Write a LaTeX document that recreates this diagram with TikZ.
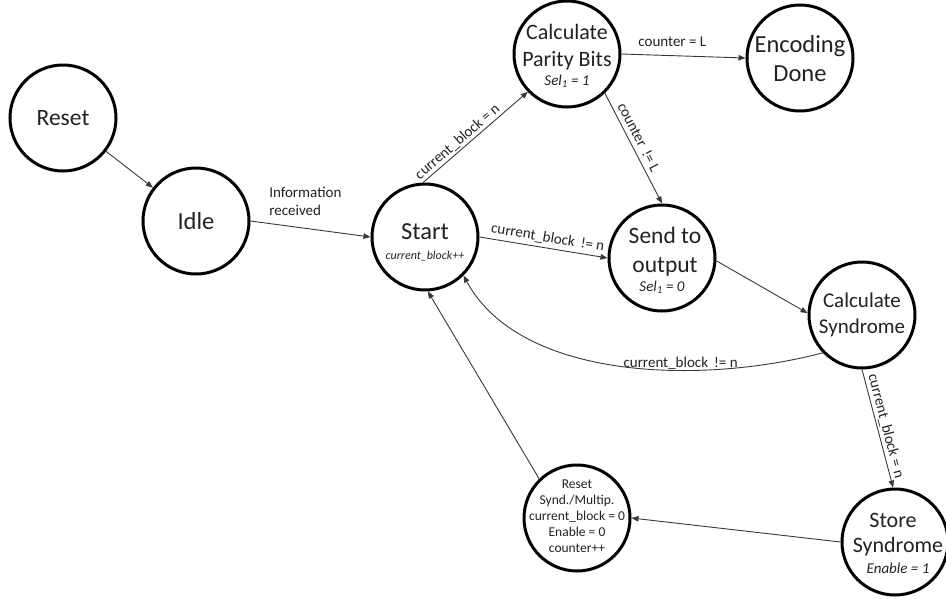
\documentclass[tikz,border=0pt]{standalone}
\usepackage{fontspec}
\setmainfont{Carlito}
\usetikzlibrary{arrows.meta}
\definecolor{inkgray}{HTML}{222222}
\definecolor{wiregray}{HTML}{383838}
\tikzset{
  state/.style={circle, draw=black, line width=3pt, minimum size=106pt, inner sep=0pt},
  stxt/.style={anchor=base, text=inkgray, inner sep=0pt},
  fhuge/.style={font=\fontsize{24.5}{28}\selectfont},
  fbig/.style={font=\fontsize{23.5}{27}\selectfont},
  fmid/.style={font=\fontsize{22}{26}\selectfont},
  fsyn/.style={font=\fontsize{21}{25}\selectfont},
  fnote/.style={font=\fontsize{15}{18}\selectfont\itshape},
  ftiny/.style={font=\fontsize{12}{14}\selectfont\itshape},
  fsmall/.style={font=\fontsize{13.5}{16}\selectfont},
  wire/.style={draw=wiregray, line width=0.9pt, -{Triangle[length=7pt,width=5.5pt]}},
  elabel/.style={font=\fontsize{15}{18}\selectfont, text=inkgray, inner sep=1.5pt},
}
\begin{document}
\begin{tikzpicture}[x=1pt, y=-1pt]
\useasboundingbox (0,0) rectangle (946,598);

% states
\node[state] (reset)  at (63,118)  {};
\node[state] (idle)   at (196,221) {};
\node[state] (start)  at (425,237) {};
\node[state] (parity) at (567,54)  {};
\node[state] (enc)    at (800,58)  {};
\node[state] (send)   at (662,258) {};
\node[state] (synd)   at (862,315) {};
\node[state] (store)  at (895,542) {};
\node[state] (rsynd)  at (577,518) {};

% state texts
\node[stxt, fbig] (resetT) at (63,125) {Reset};
\node[stxt, fhuge] (idleT)  at (196,229) {Idle};
\node[stxt, fhuge] (startT) at (425,239) {Start};
\node[stxt, ftiny] (startN) at (425,259) {current\_block++};
\node[stxt, fmid] (parityT1) at (567,39) {Calculate};
\node[stxt, fmid] (parityT2) at (567,66) {Parity Bits};
\node[stxt, fnote] (parityN) at (567,85) {Sel\textsubscript{1} = 1};
\node[stxt, fhuge] (encT1) at (800,52) {Encoding};
\node[stxt, fhuge] (encT2) at (800,81) {Done};
\node[stxt, fbig] (sendT1) at (665,243) {Send to};
\node[stxt, fbig] (sendT2) at (665,272) {output};
\node[stxt, fnote] (sendN) at (662,291) {Sel\textsubscript{1} = 0};
\node[stxt, fsyn] (syndT1) at (862,307) {Calculate};
\node[stxt, fsyn] (syndT2) at (862,333) {Syndrome};
\node[stxt, fmid] (storeT1) at (893,527) {Store};
\node[stxt, fmid] (storeT2) at (898,552) {Syndrome};
\node[stxt, fnote] (storeN) at (898,573) {Enable = 1};
\node[stxt, fsmall] (rsyndT1) at (577,488) {Reset};
\node[stxt, fsmall] (rsyndT2) at (577,504) {Synd./Multip.};
\node[stxt, fsmall] (rsyndT3) at (577,520) {current\_block = 0};
\node[stxt, fsmall] (rsyndT4) at (577,536) {Enable = 0};
\node[stxt, fsmall] (rsyndT5) at (577,552) {counter++};

% transitions
\draw[wire] (reset) -- (idle);
\draw[wire] (idle.0) -- node[elabel, pos=0.14, anchor=south west, align=left, yshift=6pt] {Information\\received} (start.180);
\draw[wire] (start.92) -- node[elabel, sloped, above, pos=0.38] {current\_block = n} (parity.224);
\draw[wire] (parity.0) -- node[elabel, above=7pt, pos=0.41] {counter = L} (enc.180);
\draw[wire] (parity.-46) -- node[elabel, sloped, above=3pt, pos=0.44] {counter \,!= L} (send.90);
\draw[wire] (start.0) -- node[elabel, sloped, above=2pt, pos=0.52] {current\_block \,!= n} (send.180);
\draw[wire] (send.-3) -- (synd.178);
\draw[wire] (synd.224) .. controls (700,385) and (520,380) .. node[elabel, pos=0.35, above=-1pt] {current\_block \,!= n} (start.-45);
\draw[wire] (synd.-90) -- node[elabel, sloped, above=1.5pt, pos=0.5, inner sep=0.5pt] {current\_block = n} (store.92);
\draw[wire] (store.180) -- (rsynd.0);
\draw[wire] (rsynd.134) -- (start.-87);
\end{tikzpicture}
\end{document}
